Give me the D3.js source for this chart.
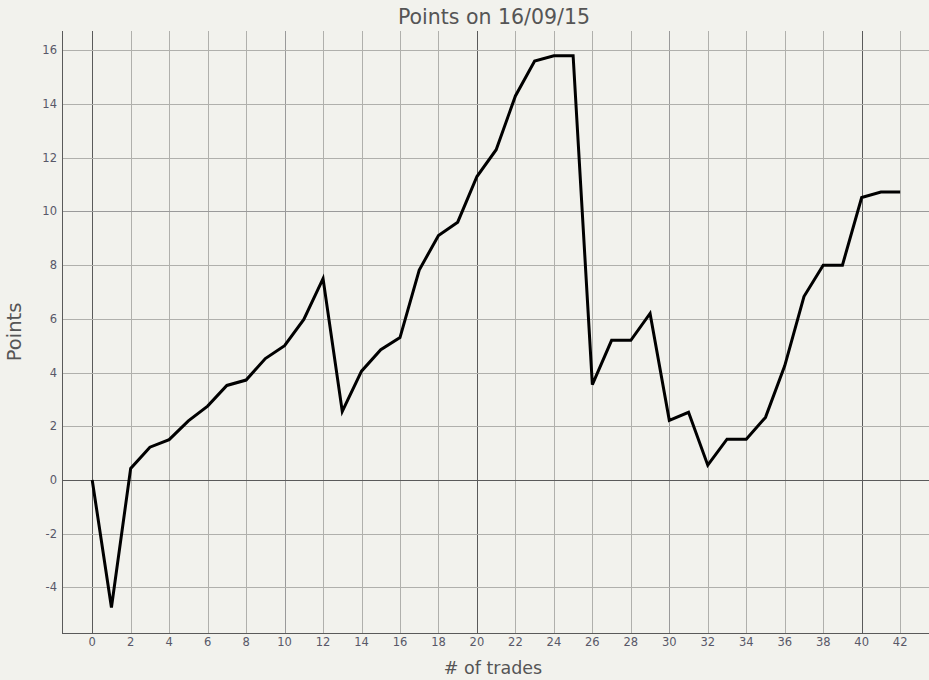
<!DOCTYPE html>
<html>
<head>
<meta charset="utf-8">
<script src="https://cdn.jsdelivr.net/npm/d3@7/dist/d3.min.js"></script>
<style>
  html, body { margin: 0; padding: 0; background: #f2f2ed; }
  svg { display: block; }
  text { font-family: "DejaVu Sans", Verdana, sans-serif; }
</style>
</head>
<body>
<svg id="chart" width="929" height="680"></svg>
<script>
const title = "Points on 16/09/15";
const xLabel = "# of trades";
const yLabel = "Points";
const trades = [0,1,2,3,4,5,6,7,8,9,10,11,12,13,14,15,16,17,18,19,20,21,22,23,24,25,26,27,28,29,30,31,32,33,34,35,36,37,38,39,40,41,42];
const points = [0,-4.75,0.43,1.22,1.5,2.2,2.75,3.52,3.72,4.52,5.0,5.98,7.5,2.55,4.05,4.85,5.3,7.82,9.1,9.6,11.3,12.3,14.3,15.6,15.8,15.8,3.55,5.2,5.2,6.2,2.22,2.52,0.55,1.52,1.52,2.33,4.25,6.83,8.0,8.0,10.52,10.72,10.72];
const xTicks = [0,2,4,6,8,10,12,14,16,18,20,22,24,26,28,30,32,34,36,38,40,42];
const yTicks = [-4,-2,0,2,4,6,8,10,12,14,16];

const svg = d3.select("#chart");
const pLeft = 62, pRight = 929, pTop = 31, pBottom = 633;

const x = d3.scaleLinear().domain([-1.57, 43.5]).range([pLeft, pRight]);
const y = d3.scaleLinear().domain([-5.7, 16.72]).range([pBottom, pTop]);

function gridColor(v, zeroOnly) {
  if (v === 0) return "#5a5a5a";
  if (!zeroOnly && v % 20 === 0) return "#5a5a5a";
  if (v % 10 === 0) return "#9a9a9a";
  return "#b0b0ac";
}

const g = svg.append("g");
g.selectAll("line.vx").data(xTicks).enter().append("line")
  .attr("x1", d => Math.round(x(d)) + 0.5).attr("x2", d => Math.round(x(d)) + 0.5)
  .attr("y1", pTop).attr("y2", pBottom)
  .attr("stroke", d => gridColor(d, false)).attr("stroke-width", 1);
g.selectAll("line.hy").data(yTicks).enter().append("line")
  .attr("y1", d => Math.round(y(d)) + 0.5).attr("y2", d => Math.round(y(d)) + 0.5)
  .attr("x1", pLeft).attr("x2", pRight)
  .attr("stroke", d => gridColor(d, true)).attr("stroke-width", 1);

g.append("line").attr("x1", pLeft + 0.5).attr("x2", pLeft + 0.5).attr("y1", pTop).attr("y2", pBottom + 1)
  .attr("stroke", "#5a5a5a");
g.append("line").attr("x1", pLeft).attr("x2", pRight).attr("y1", pBottom + 0.5).attr("y2", pBottom + 0.5)
  .attr("stroke", "#5a5a5a");

g.selectAll("text.xt").data(xTicks).enter().append("text")
  .attr("x", d => x(d)).attr("y", pBottom + 13)
  .attr("text-anchor", "middle")
  .attr("font-size", 11.5).attr("fill", "#585868")
  .text(d => d);
g.selectAll("text.yt").data(yTicks).enter().append("text")
  .attr("x", pLeft - 5).attr("y", d => y(d) + 4)
  .attr("text-anchor", "end")
  .attr("font-size", 11.5).attr("fill", "#585868")
  .text(d => d);

const line = d3.line().x((d, i) => x(trades[i])).y(d => y(d));
g.append("path").datum(points)
  .attr("d", line)
  .attr("fill", "none")
  .attr("stroke", "#000")
  .attr("stroke-width", 3)
  .attr("stroke-linejoin", "miter");

svg.append("text").attr("x", 494).attr("y", 24)
  .attr("text-anchor", "middle").attr("font-size", 20.5).attr("fill", "#555")
  .text(title);
svg.append("text").attr("x", 493).attr("y", 674)
  .attr("text-anchor", "middle").attr("font-size", 17.5).attr("fill", "#555")
  .text(xLabel);
svg.append("text").attr("transform", `translate(21,${(pTop + pBottom) / 2}) rotate(-90)`)
  .attr("text-anchor", "middle").attr("font-size", 19.5).attr("fill", "#555")
  .text(yLabel);
</script>
</body>
</html>
